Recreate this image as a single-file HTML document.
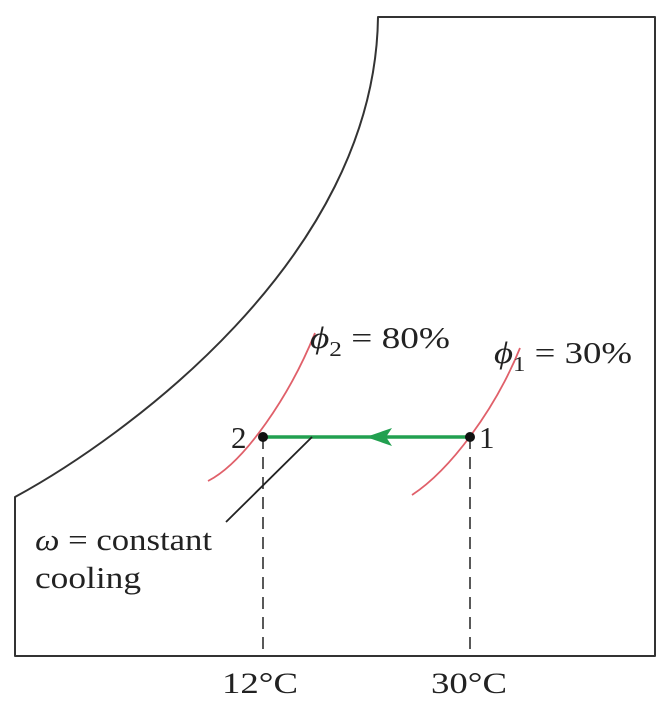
<!DOCTYPE html>
<html><head><meta charset="utf-8"><style>
html,body{margin:0;padding:0;background:#fff;}
svg text{font-family:"Liberation Serif",serif;fill:#222;}
</style></head><body>
<svg width="670" height="703" viewBox="0 0 670 703">
<path d="M15,656 L15,497 C120,440 375,260 378,17 L655,17 L655,656 Z" fill="none" stroke="#333" stroke-width="2" stroke-linejoin="round"/>
<path d="M208,481 C245,462 290,395 315,333" fill="none" stroke="#e0606a" stroke-width="1.8"/>
<path d="M412,495 C450,470 495,410 520,348" fill="none" stroke="#e0606a" stroke-width="1.8"/>
<line x1="263" y1="437" x2="263" y2="656" stroke="#222" stroke-width="1.5" stroke-dasharray="12,8"/>
<line x1="470" y1="437" x2="470" y2="656" stroke="#222" stroke-width="1.5" stroke-dasharray="12,8"/>
<line x1="263" y1="437" x2="470" y2="437" stroke="#22a050" stroke-width="3.5"/>
<path d="M366,437 L392,428 L386,437 L392,446 Z" fill="#22a050"/>
<line x1="312" y1="437" x2="226" y2="522" stroke="#222" stroke-width="1.8"/>
<circle cx="263" cy="437" r="5" fill="#111"/>
<circle cx="470" cy="437" r="5" fill="#111"/>
<text x="231" y="448" font-size="31">2</text>
<text x="479" y="448" font-size="31">1</text>
<text x="310" y="348" font-size="31" textLength="140" lengthAdjust="spacingAndGlyphs"><tspan font-style="italic">ϕ</tspan><tspan font-size="21" dy="8">2</tspan><tspan dy="-8"> = 80%</tspan></text>
<text x="494" y="363" font-size="31" textLength="138" lengthAdjust="spacingAndGlyphs"><tspan font-style="italic">ϕ</tspan><tspan font-size="21" dy="8">1</tspan><tspan dy="-8"> = 30%</tspan></text>
<text x="35" y="550" font-size="31" textLength="177" lengthAdjust="spacingAndGlyphs"><tspan font-style="italic">ω</tspan> = constant</text>
<text x="35" y="588" font-size="31" textLength="106" lengthAdjust="spacingAndGlyphs">cooling</text>
<text x="222" y="693" font-size="30" textLength="76" lengthAdjust="spacingAndGlyphs">12°C</text>
<text x="431" y="693" font-size="30" textLength="76" lengthAdjust="spacingAndGlyphs">30°C</text>
</svg>
</body></html>
